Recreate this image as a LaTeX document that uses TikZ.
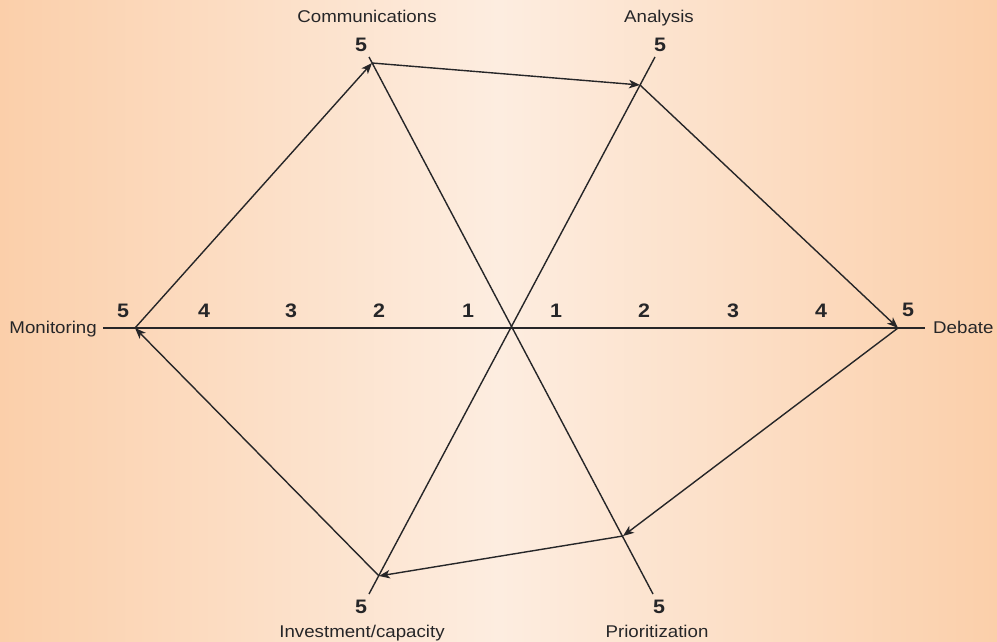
\documentclass[tikz,border=0pt]{standalone}
\usepackage{fontspec}
\setmainfont{Liberation Sans}
\newfontfamily\chartfont[FakeStretch=1.1]{Liberation Sans}
\usetikzlibrary{
    arrows.meta,
    positioning
}
\definecolor{ink}{RGB}{38,38,40}
\definecolor{peach}{RGB}{251,207,170}
\definecolor{paleglow}{RGB}{253,237,224}
\tikzset{
    axisline/.style={
        draw=ink,
        line width=1.4pt
    },
    stepflow/.style={
        -{Stealth[length=11pt, width=8.5pt, inset=3pt]},
        draw=ink,
        line width=1.4pt
    },
    score/.style={
        font=\chartfont\bfseries\fontsize{19.5}{19.5}\selectfont,
        text=ink,
        inner sep=0pt
    },
    axisname/.style={
        font=\chartfont\fontsize{17}{17}\selectfont,
        text=ink,
        inner sep=0pt
    }
}

\begin{document}
\begin{tikzpicture}[x=1pt, y=-1pt]

    % Background wash
    \shade[left color=peach, right color=peach, middle color=paleglow]
        (0,0) rectangle (997,642);
    \useasboundingbox (0,0) rectangle (997,642);

    % Axis ends
    \coordinate (leftend)  at (103,328);
    \coordinate (rightend) at (925,328);
    \coordinate (commtop)  at (369,57);
    \coordinate (priobot)  at (653,594);
    \coordinate (anatop)   at (655,57);
    \coordinate (invbot)   at (369,594);

    % Scores (vertices of the profile)
    \coordinate (mon)  at (135,328);
    \coordinate (comm) at (372,63);
    \coordinate (ana)  at (640,85);
    \coordinate (deb)  at (898,328);
    \coordinate (prio) at (623,536);
    \coordinate (inv)  at (379,576);

    % Axes
    \draw[axisline] (leftend) -- (rightend);
    \draw[axisline] (commtop) -- (priobot);
    \draw[axisline] (anatop) -- (invbot);

    % Profile, one step after the other
    \draw[stepflow] (mon) -- (comm);
    \draw[stepflow] (comm) -- (ana);
    \draw[stepflow] (ana) -- (deb);
    \draw[stepflow] (deb) -- (prio);
    \draw[stepflow] (prio) -- (inv);
    \draw[stepflow] (inv) -- (mon);

    % Scale along the horizontal axis
    \foreach \xpos/\val [count=\i] in {204/4, 291/3, 379/2, 468/1,
                                       556/1, 644/2, 733/3, 821/4} {
        \node[score] (tick\i) at (\xpos,311) {\val};
    }

    % Top scores of each axis
    \node[score] (monfive)  at (123,311) {5};
    \node[score] (debfive)  at (908,310) {5};
    \node[score] (commfive) at (361,45)  {5};
    \node[score] (anafive)  at (660,45)  {5};
    \node[score] (invfive)  at (361,607) {5};
    \node[score] (priofive) at (659,607) {5};

    % Axis names
    \node[axisname, anchor=base east] (monlabel)  at (97,333)  {Monitoring};
    \node[axisname, anchor=base west] (deblabel)  at (933,333) {Debate};
    \node[axisname, anchor=base] (commlabel) at (367,23)  {Communications};
    \node[axisname, anchor=base] (analabel)  at (659,23)  {Analysis};
    \node[axisname, anchor=base] (invlabel)  at (362,637) {Investment/capacity};
    \node[axisname, anchor=base] (priolabel) at (657,637) {Prioritization};

\end{tikzpicture}
\end{document}
